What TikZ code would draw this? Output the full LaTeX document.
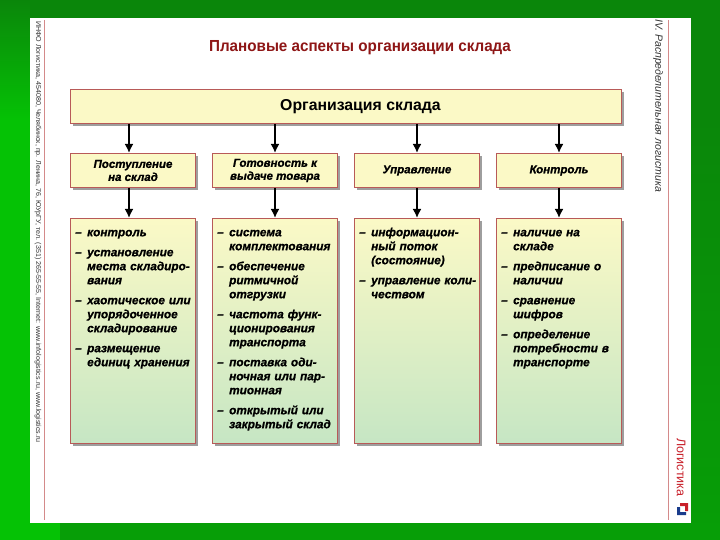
\documentclass[tikz,border=0pt]{standalone}
\usepackage{fontspec}
\setmainfont{Liberation Sans}
\newfontfamily\heavyfont[FakeBold=0.9]{Liberation Sans}
\newfontfamily\narrowfont[FakeStretch=0.95]{Liberation Sans}
\usetikzlibrary{shadows,arrows.meta}
\definecolor{bgdark}{HTML}{0A860A}
\definecolor{bgbright}{HTML}{05C205}
\definecolor{bgmid}{HTML}{079E07}
\definecolor{boxborder}{HTML}{B85A58}
\definecolor{boxyellow}{HTML}{FBF9C6}
\definecolor{boxgreen}{HTML}{C6E6C4}
\definecolor{titlered}{HTML}{8E1616}
\definecolor{marginred}{HTML}{D48A8A}
\definecolor{logored}{HTML}{C8202A}
\definecolor{logoblue}{HTML}{1A3C8C}
\newcommand{\ditem}[1]{\par\hangindent=12pt\hangafter=1\noindent\makebox[12pt][l]{–}#1\par}
\tikzset{
  boxbase/.style={draw=boxborder, line width=1pt,
    drop shadow={shadow xshift=2.5pt, shadow yshift=-2.5pt, fill=black!38, opacity=1}},
  topbox/.style={boxbase, fill=boxyellow, minimum width=551pt, minimum height=34pt,
    anchor=north west, inner sep=0pt, font=\fontsize{15.8}{17}\selectfont\bfseries},
  hdrbox/.style={boxbase, fill=boxyellow, minimum width=125pt, minimum height=34pt,
    anchor=north west, inner sep=0pt, align=center,
    font=\heavyfont\fontsize{11.5}{13}\selectfont\bfseries\itshape},
  bodybox/.style={boxbase, top color=boxyellow, bottom color=boxgreen,
    minimum width=125pt, minimum height=225pt, anchor=north west, inner sep=0pt},
  bodytext/.style={anchor=north west, text width=140pt, align=left, inner sep=0pt,
    font=\heavyfont\fontsize{11.8}{14}\selectfont\bfseries\itshape},
  arr/.style={line width=1.9pt, -{Latex[length=9pt,width=9pt]}},
}
\begin{document}
\begin{tikzpicture}[x=1pt,y=-1pt]
\useasboundingbox (0,0) rectangle (720,540);
% background
\fill[bgdark] (0,0) rectangle (720,540);
\shade[top color=bgdark, bottom color=bgbright] (0,0) rectangle (30,120);
\fill[bgbright] (0,120) rectangle (30,540);
\shade[top color=bgdark, bottom color=bgmid] (690,100) rectangle (720,540);
\fill[bgbright] (0,523) rectangle (60,540);
\fill[bgmid] (60,523) rectangle (720,540);
% page
\fill[white] (30,18) rectangle (691,523);
\draw[marginred, line width=0.9pt] (44,20) -- (44,520);
\draw[marginred, line width=0.9pt] (668,20) -- (668,520);
% margin texts
\node[rotate=-90, anchor=west, inner sep=0pt, font=\fontsize{7.1}{8}\selectfont, text=black!80]
  (lefttext) at (38,21) {ИНФО Логистика, 454080, Челябинск, пр. Ленина, 76, ЮУрГУ, тел. (351) 265-55-55, Internet: www.infologistics.ru, www.logistics.ru};
\node[rotate=-90, anchor=west, inner sep=0pt, font=\fontsize{10.5}{12}\selectfont\itshape, text=black!80]
  (righttext) at (658,19) {IV. Распределительная логистика};
\node[rotate=-90, anchor=west, inner sep=0pt, font=\fontsize{12.5}{13}\selectfont, text=logored]
  (brand) at (681,438) {Логистика};
\fill[logored] (680,503) -- (688,503) -- (688,511) -- (685,511) -- (685,506) -- (680,506) -- cycle;
\fill[logoblue] (677,507) -- (680,507) -- (680,512) -- (686,512) -- (686,515) -- (677,515) -- cycle;
% title
\node[font=\narrowfont\fontsize{16}{18}\selectfont\bfseries, text=titlered] (title) at (360,47.5)
  {Плановые аспекты организации склада};
% top box
\node[topbox] (top) at (70,89) {\hspace*{29pt}Организация склада};
% headers
\node[hdrbox] (h1) at (70,153) {Поступление\\на склад};
\node[hdrbox] (h2) at (212,153) {Готовность к\\выдаче товара};
\node[hdrbox] (h3) at (354,153) {Управление};
\node[hdrbox] (h4) at (496,153) {Контроль};
% bodies
\node[bodybox] (b1) at (70,218) {};
\node[bodybox] (b2) at (212,218) {};
\node[bodybox] (b3) at (354,218) {};
\node[bodybox] (b4) at (496,218) {};
% arrows
\foreach \i/\dx in {1/-4,2/0,3/0,4/0}{
  \draw[arr] ([xshift=\dx pt]h\i.north |- top.south) -- ([xshift=\dx pt]h\i.north);
  \draw[arr] ([xshift=\dx pt]h\i.south) -- ([xshift=\dx pt]b\i.north);
}
% body texts
\node[bodytext] (t1) at (75,216) {\setlength\parskip{6pt}%
\ditem{контроль}
\ditem{установление\newline места складиро-\newline вания}
\ditem{хаотическое или\newline упорядоченное\newline складирование}
\ditem{размещение\newline единиц хранения}};
\node[bodytext] (t2) at (217,216) {\setlength\parskip{6pt}%
\ditem{система\newline комплектования}
\ditem{обеспечение\newline ритмичной\newline отгрузки}
\ditem{частота функ-\newline ционирования\newline транспорта}
\ditem{поставка оди-\newline ночная или пар-\newline тионная}
\ditem{открытый или\newline закрытый склад}};
\node[bodytext] (t3) at (359,216) {\setlength\parskip{6pt}%
\ditem{информацион-\newline ный поток\newline (состояние)}
\ditem{управление коли-\newline чеством}};
\node[bodytext] (t4) at (501,216) {\setlength\parskip{6pt}%
\ditem{наличие на\newline складе}
\ditem{предписание о\newline наличии}
\ditem{сравнение\newline шифров}
\ditem{определение\newline потребности в\newline транспорте}};
\end{tikzpicture}
\end{document}
